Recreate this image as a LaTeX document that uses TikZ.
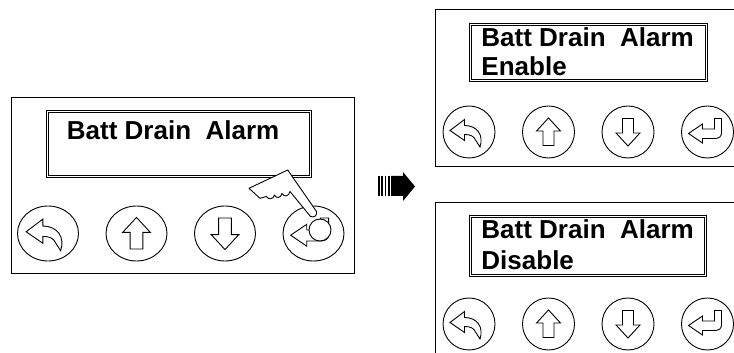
\documentclass[tikz,border=0pt]{standalone}
\usepackage{fontspec}
\setmainfont{Liberation Sans}
\usetikzlibrary{shapes.geometric}

% key symbols, drawn for a key of radius 26
\tikzset{
  backkey/.pic={\draw[fill=white] (-19,1.5) -- (-4.5,12.5) -- (-4.5,6.5) .. controls (8,6.5) and (15,-3) .. (11,-15) -- (6.5,-8) .. controls (5,-4) and (1,-2.5) .. (-4.5,-2.5) -- (-4.5,-8.5) -- cycle;},
  upkey/.pic={\draw[fill=white] (0,14) -- (12,1) -- (5.5,1) -- (5.5,-13.5) -- (-5.5,-13.5) -- (-5.5,1) -- (-12,1) -- cycle;},
  downkey/.pic={\draw[fill=white] (0,-14) -- (12,-1) -- (5.5,-1) -- (5.5,13.5) -- (-5.5,13.5) -- (-5.5,-1) -- (-12,-1) -- cycle;},
  enterkey/.pic={\draw[fill=white] (-19,-1.5) -- (-5,8) -- (-5,3) -- (7,3) -- (7,13.5) -- (14,13.5) -- (14,-1) .. controls (14,-5) and (11,-6.5) .. (7,-6.5) -- (-5,-6.5) -- (-5,-11) -- cycle;}
}

\begin{document}
\begin{tikzpicture}[x=1pt, y=1pt, line width=0.9pt, node distance=88.5pt]
\tikzstyle{panel} = [rectangle, draw, inner sep=0pt]
\tikzstyle{lcd} = [rectangle, draw, double, double distance=1.6pt, inner sep=0pt]
\tikzstyle{key} = [ellipse, draw, minimum width=61pt, minimum height=55pt, inner sep=0pt]
\tikzstyle{smallkey} = [circle, draw, minimum size=52pt, inner sep=0pt]
\tikzstyle{lcdtext} = [anchor=base west, inner sep=0pt, font=\fontsize{26}{30}\selectfont\bfseries]

\path[use as bounding box, clip] (0,0) rectangle (734,353);

% left panel, enter key pressed
\node[panel, minimum width=343pt, minimum height=176pt] (lpanel) at (182.5,168) {};
\node[lcd, minimum width=263pt, minimum height=65pt] (llcd) at (179,209) {};
\node[lcdtext] (ltitle) at (66.5,213) {Batt Drain~ Alarm};

\node[key] (lback) at (48,119.5) {};
\node[key, right of=lback] (lup) {};
\node[key, right of=lup] (ldown) {};
\node[key, right of=ldown] (lenter) {};

\pic[scale=1.15] at (lback) {backkey};
\pic[scale=1.15] at (lup) {upkey};
\pic[scale=1.15] at (ldown) {downkey};
\pic[scale=1.15] at ([xshift=-1pt]lenter.center) {enterkey};
\draw[fill=white] (320,123) circle (11);

% hand
\draw[fill=white, line join=round] (249,164.7) -- (287.7,183) -- (316.5,141.5)
  .. controls (317.5,137.5) and (314,135) .. (310.5,136.5) -- (290,161.5)
  .. controls (289,156.5) and (284,155.5) .. (282,159.5)
  .. controls (281,155) and (276,154) .. (274.5,158)
  .. controls (273.5,153.5) and (268,153) .. (266.5,156.5)
  -- (260,154.7) -- cycle;

% transition arrow
\foreach \x in {378,381.3,384.6,387.9}
  \fill (\x,157) rectangle +(1.6,20);
\fill (391,157) -- (403,157) -- (403,152) -- (415,166.5) -- (403,181) -- (403,177) -- (391,177) -- cycle;

% top right panel
\node[panel, minimum width=330pt, minimum height=157pt, anchor=south west] (tpanel) at (435,186) {};
\node[lcd, minimum width=236pt, minimum height=56pt] (tlcd) at (588.5,300.5) {};
\node[lcdtext] (ttitle) at (481,306) {Batt Drain~ Alarm};
\node[lcdtext] (tstate) at (481,277) {Enable};

\begin{scope}[node distance=79.5pt]
\node[smallkey] (tback) at (469,221) {};
\node[smallkey, right of=tback] (tup) {};
\node[smallkey, right of=tup] (tdown) {};
\node[smallkey, right of=tdown] (tenter) {};
\end{scope}
\pic at (tback) {backkey};
\pic at (tup) {upkey};
\pic at (tdown) {downkey};
\pic at (tenter) {enterkey};

% bottom right panel
\node[panel, minimum width=330pt, minimum height=190pt, anchor=north west] (bpanel) at (435,151) {};
\node[lcd, minimum width=235pt, minimum height=59pt] (blcd) at (588,107) {};
\node[lcdtext] (btitle) at (481,114) {Batt Drain~ Alarm};
\node[lcdtext] (bstate) at (481,83) {Disable};

\begin{scope}[node distance=79.5pt]
\node[smallkey] (bback) at (469,29) {};
\node[smallkey, right of=bback] (bup) {};
\node[smallkey, right of=bup] (bdown) {};
\node[smallkey, right of=bdown] (benter) {};
\end{scope}
\pic at (bback) {backkey};
\pic at (bup) {upkey};
\pic at (bdown) {downkey};
\pic at (benter) {enterkey};

\end{tikzpicture}
\end{document}
